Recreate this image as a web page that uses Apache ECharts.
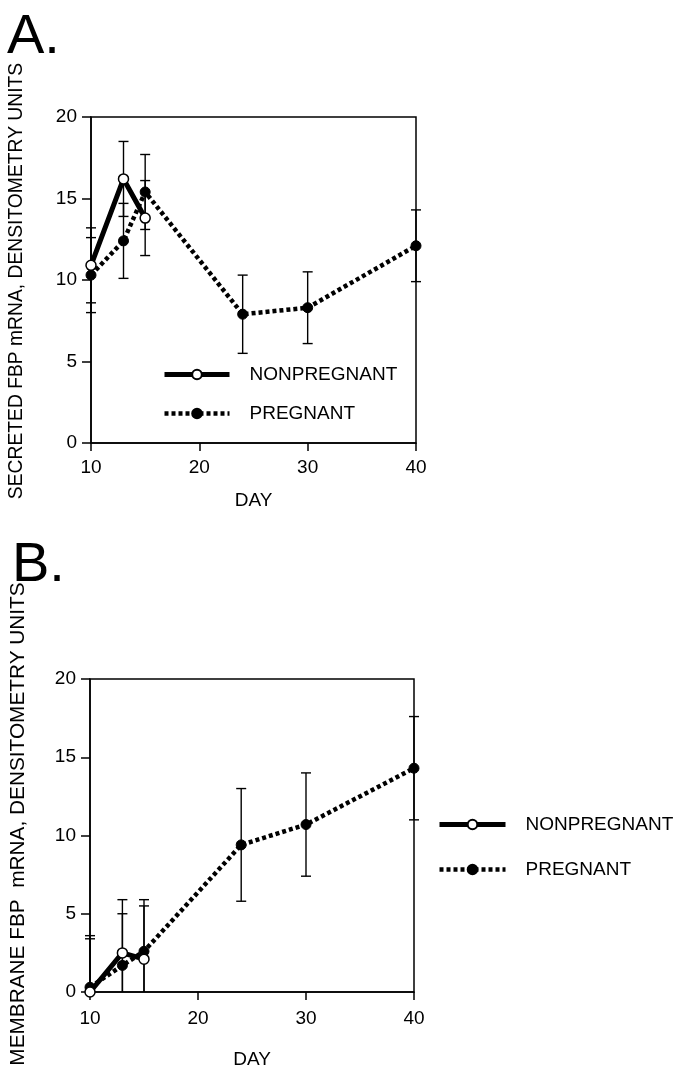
<!DOCTYPE html>
<html>
<head>
<meta charset="utf-8">
<script src="https://cdn.jsdelivr.net/npm/echarts@6/dist/echarts.min.js"></script>
<style>
  html, body { margin: 0; padding: 0; background: #fff; }
  #chart { width: 679px; height: 1070px; }
</style>
</head>
<body>
<div id="chart"></div>
<script>
// panel A: secreted FBP mRNA
var npDaysA = [10, 13, 15];
var npA = [10.9, 16.2, 13.8];
var npErrA = [2.3, 2.3, 2.3];
var pDaysA = [10, 13, 15, 24, 30, 40];
var pA = [10.3, 12.4, 15.4, 7.9, 8.3, 12.1];
var pErrA = [2.3, 2.3, 2.3, 2.4, 2.2, 2.2];

// panel B: membrane FBP mRNA
var npDaysB = [10, 13, 15];
var npB = [0, 2.5, 2.1];
var npErrB = [3.4, 3.4, 3.4];
var pDaysB = [10, 13, 15, 24, 30, 40];
var pB = [0.3, 1.7, 2.6, 9.4, 10.7, 14.3];
var pErrB = [3.3, 3.3, 3.3, 3.6, 3.3, 3.3];

var xTicks = [10, 20, 30, 40];
var yTicks = [0, 5, 10, 15, 20];
var names = ['NONPREGNANT', 'PREGNANT'];

var font = 'Liberation Sans, Arial, Helvetica, sans-serif';
var npLine = { color: '#000', width: 5 };
var pLine = { color: '#000', width: 4.5, type: [4, 3] };

function pairs(days, vals) {
    return days.map(function (d, i) { return [d, vals[i]]; });
}

function errorBars(days, means, errs, idx) {
    return {
        type: 'custom',
        xAxisIndex: idx,
        yAxisIndex: idx,
        silent: true,
        z: 1,
        encode: { x: 0, y: [1, 2] },
        data: days.map(function (d, i) { return [d, means[i] - errs[i], means[i] + errs[i]]; }),
        renderItem: function (params, api) {
            var x = api.value(0);
            var lo = api.value(1), hi = api.value(2);
            var top = api.coord([x, hi]);
            var bot = api.coord([x, Math.max(lo, 0)]);
            var st = { stroke: '#000', lineWidth: 1.4 };
            var kids = [
                { type: 'line', shape: { x1: top[0], y1: top[1], x2: bot[0], y2: bot[1] }, style: st },
                { type: 'line', shape: { x1: top[0] - 5, y1: top[1], x2: top[0] + 5, y2: top[1] }, style: st }
            ];
            if (lo > 0) {
                kids.push({ type: 'line', shape: { x1: bot[0] - 5, y1: bot[1], x2: bot[0] + 5, y2: bot[1] }, style: st });
            }
            return { type: 'group', children: kids };
        }
    };
}

function npSeries(days, vals, idx) {
    return {
        name: names[0], type: 'line', xAxisIndex: idx, yAxisIndex: idx, z: 4,
        data: pairs(days, vals),
        symbol: 'circle', symbolSize: 10,
        itemStyle: { color: '#fff', borderColor: '#000', borderWidth: 1.5 },
        lineStyle: npLine,
        clip: false, animation: false
    };
}

function pSeries(days, vals, idx) {
    return {
        name: names[1], type: 'line', xAxisIndex: idx, yAxisIndex: idx, z: 3,
        data: pairs(days, vals),
        symbol: 'circle', symbolSize: 10,
        itemStyle: { color: '#000', borderColor: '#000', borderWidth: 1 },
        lineStyle: pLine,
        clip: false, animation: false
    };
}

function xAxis(idx, gap, margin) {
    return {
        type: 'value', gridIndex: idx, min: 10, max: 40, interval: 10,
        name: 'DAY', nameLocation: 'middle', nameGap: gap,
        nameTextStyle: { fontSize: 19, color: '#000', fontFamily: font },
        axisLine: { lineStyle: { color: '#000', width: 1.5 } },
        axisTick: { length: 8, lineStyle: { color: '#000', width: 1.5 } },
        axisLabel: {
            fontSize: 19, color: '#000', fontFamily: font, margin: margin,
            formatter: function (v) { return xTicks.indexOf(v) >= 0 ? String(v) : ''; }
        },
        splitLine: { show: false }
    };
}

function yAxis(idx) {
    return {
        type: 'value', gridIndex: idx, min: 0, max: 20, interval: 5,
        axisLine: { show: true, lineStyle: { color: '#000', width: 1.5 } },
        axisTick: { show: true, length: 9, lineStyle: { color: '#000', width: 1.5 } },
        axisLabel: {
            fontSize: 19, color: '#000', fontFamily: font, margin: 14,
            formatter: function (v) { return yTicks.indexOf(v) >= 0 ? String(v) : ''; }
        },
        splitLine: { show: false }
    };
}

function legendData() {
    return [
        { name: names[0], lineStyle: npLine },
        { name: names[1], lineStyle: pLine }
    ];
}

var chart = echarts.init(document.getElementById('chart'));
var option = {
    backgroundColor: '#fff',
    animation: false,
    grid: [
        { left: 91, top: 117, width: 325, height: 326, show: true, borderColor: '#000', borderWidth: 1.5 },
        { left: 90, top: 679, width: 324, height: 325, show: true, borderColor: '#000', borderWidth: 1.5 }
    ],
    xAxis: [xAxis(0, 48, 15), xAxis(1, 58, 17)],
    yAxis: [yAxis(0), yAxis(1)],
    legend: [
        {
            data: legendData(), orient: 'vertical', left: 162, top: 365, padding: 0,
            itemWidth: 65, itemHeight: 12, itemGap: 20, selectedMode: false,
            textStyle: { fontSize: 19, color: '#000', fontFamily: font, padding: [0, 0, 0, 15] }
        },
        {
            data: legendData(), orient: 'vertical', left: 437, top: 815, padding: 0,
            itemWidth: 66, itemHeight: 12, itemGap: 26, selectedMode: false,
            textStyle: { fontSize: 19, color: '#000', fontFamily: font, padding: [0, 0, 0, 15] }
        }
    ],
    graphic: [
        { type: 'text', left: 7, top: 10, style: { text: 'A.', fontSize: 56, fontFamily: font, fill: '#000' } },
        { type: 'text', left: 12, top: 538, style: { text: 'B.', fontSize: 56, fontFamily: font, fill: '#000' } },
        {
            type: 'text', x: 17, y: 281, rotation: Math.PI / 2,
            style: { text: 'SECRETED FBP mRNA, DENSITOMETRY UNITS', fontSize: 19.3, fontFamily: font, fill: '#000', align: 'center', verticalAlign: 'middle' }
        },
        {
            type: 'text', x: 18, y: 824, rotation: Math.PI / 2,
            style: { text: 'MEMBRANE FBP  mRNA, DENSITOMETRY UNITS', fontSize: 20.8, fontFamily: font, fill: '#000', align: 'center', verticalAlign: 'middle' }
        }
    ],
    series: [
        errorBars(npDaysA, npA, npErrA, 0),
        errorBars(pDaysA, pA, pErrA, 0),
        pSeries(pDaysA, pA, 0),
        npSeries(npDaysA, npA, 0),
        errorBars(npDaysB, npB, npErrB, 1),
        errorBars(pDaysB, pB, pErrB, 1),
        pSeries(pDaysB, pB, 1),
        npSeries(npDaysB, npB, 1)
    ]
};
chart.setOption(option);
</script>
</body>
</html>
